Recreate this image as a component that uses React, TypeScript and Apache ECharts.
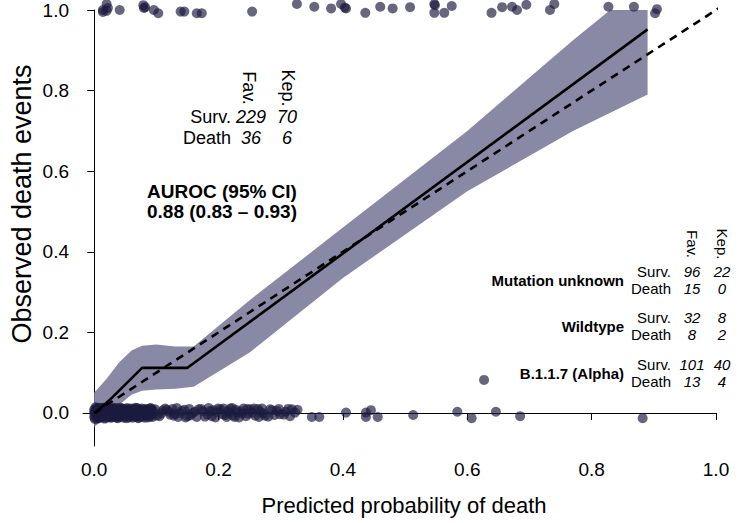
import React, { useEffect, useRef } from "react";
import * as echarts from "echarts";

// ---------- data ----------
const xTicks = [0, 0.2, 0.4, 0.6, 0.8, 1.0];
const yTicks = [0, 0.2, 0.4, 0.6, 0.8, 1.0];

// observed deaths (y jittered around 1)
const deathPts: [number, number][] = [
  [0.014, 1.0], [0.014, 0.995], [0.020, 1.015], [0.020, 0.998], [0.022, 1.005], [0.041, 1.0],
  [0.079, 1.012], [0.080, 1.005], [0.082, 1.007], [0.096, 1.0], [0.103, 0.992], [0.139, 0.996],
  [0.145, 0.996], [0.165, 0.992], [0.173, 0.992], [0.254, 0.996], [0.326, 1.015], [0.354, 1.008],
  [0.381, 1.004], [0.397, 1.015], [0.403, 1.006], [0.405, 1.004], [0.436, 0.993], [0.460, 1.008],
  [0.480, 1.004], [0.508, 1.007], [0.547, 1.015], [0.548, 1.012], [0.547, 0.993], [0.563, 0.993],
  [0.575, 1.010], [0.639, 0.993], [0.656, 1.007], [0.672, 1.008], [0.680, 1.0], [0.695, 1.013],
  [0.733, 1.0], [0.740, 1.015], [0.827, 1.008], [0.868, 1.008], [0.905, 1.002], [0.902, 0.992],
];

// observed survivors (y jittered around 0)
const survPts: [number, number][] = [
  [0.001, 0.004], [0.002, -0.008], [0.003, 0.010], [0.004, -0.002], [0.005, 0.012], [0.006, -0.012], [0.007, 0.003], [0.008, -0.006], [0.009, 0.008], [0.010, -0.010],
  [0.001, -0.015], [0.002, 0.014], [0.003, -0.004], [0.004, 0.007], [0.005, -0.009], [0.006, 0.001], [0.007, -0.013], [0.008, 0.011], [0.009, -0.001], [0.010, 0.006],
  [0.011, -0.007], [0.012, 0.009], [0.013, -0.011], [0.014, 0.002], [0.015, 0.013], [0.016, -0.005], [0.017, 0.005], [0.018, -0.012], [0.019, 0.010], [0.020, -0.003],
  [0.000, 0.000], [0.000, 0.008], [0.000, -0.010], [0.002, 0.002], [0.004, -0.014], [0.006, 0.011], [0.008, -0.003], [0.011, 0.004], [0.013, 0.012], [0.015, -0.008],
  [0.021, 0.007], [0.022, -0.010], [0.023, 0.012], [0.024, -0.001], [0.025, 0.005], [0.026, -0.012], [0.027, 0.009], [0.028, -0.006], [0.029, 0.002], [0.030, 0.011],
  [0.017, -0.014], [0.019, 0.004], [0.021, -0.004], [0.023, 0.001], [0.025, -0.009], [0.027, -0.002], [0.029, -0.011], [0.031, 0.006], [0.032, -0.008], [0.033, 0.010],
  [0.034, -0.003], [0.035, 0.008], [0.036, -0.012], [0.037, 0.003], [0.038, 0.012], [0.039, -0.006], [0.040, 0.005], [0.041, -0.010], [0.042, 0.009], [0.043, -0.001],
  [0.044, 0.011], [0.045, -0.007], [0.046, 0.004], [0.047, -0.012], [0.048, 0.007], [0.049, -0.004], [0.050, 0.010], [0.051, -0.009], [0.052, 0.001], [0.053, 0.012],
  [0.054, -0.005], [0.055, 0.006], [0.056, -0.011], [0.057, 0.009], [0.058, -0.002], [0.059, 0.011], [0.060, -0.008], [0.061, 0.003], [0.062, -0.012], [0.063, 0.008],
  [0.064, -0.003], [0.065, 0.010], [0.066, -0.009], [0.067, 0.004], [0.068, -0.006], [0.069, 0.012], [0.070, -0.011], [0.071, 0.002], [0.072, 0.009], [0.073, -0.004],
  [0.074, 0.006], [0.075, -0.010], [0.076, 0.011], [0.077, -0.002], [0.078, 0.004], [0.079, -0.008], [0.080, 0.009], [0.081, -0.012], [0.082, 0.001], [0.083, 0.010],
  [0.084, -0.006], [0.085, 0.005], [0.086, -0.011], [0.087, 0.008], [0.088, -0.003], [0.089, 0.011], [0.090, -0.009], [0.091, 0.003], [0.092, -0.005], [0.093, 0.009],
  [0.003, 0.006], [0.005, -0.004], [0.007, 0.013], [0.009, -0.011], [0.012, -0.002], [0.014, 0.009], [0.016, 0.003], [0.018, 0.006], [0.020, 0.012], [0.022, 0.003],
  [0.024, 0.010], [0.026, 0.004], [0.028, 0.011], [0.031, -0.002], [0.033, 0.003], [0.035, -0.009], [0.037, -0.006], [0.040, -0.002], [0.042, 0.000], [0.045, 0.002],
  [0.032, 0.013], [0.038, -0.013], [0.043, 0.013], [0.047, 0.010], [0.052, -0.013], [0.056, 0.002], [0.061, -0.004], [0.066, 0.013], [0.071, -0.013], [0.076, 0.001],
  [0.081, 0.005], [0.086, -0.001], [0.091, 0.012], [0.094, -0.010], [0.098, 0.009],
  [0.105, -0.008], [0.110, 0.006], [0.122, -0.004], [0.126, 0.010], [0.135, -0.010], [0.145, 0.008], [0.155, -0.006], [0.168, 0.009], [0.178, -0.009], [0.186, 0.004],
  [0.195, -0.011], [0.203, 0.009], [0.211, -0.005], [0.219, 0.011], [0.226, -0.010], [0.236, 0.004], [0.244, -0.008], [0.263, 0.010], [0.275, -0.007], [0.286, 0.007],
  [0.305, -0.004], [0.318, 0.009],
  [0.108, -0.001], [0.114, 0.011], [0.120, 0.003], [0.128, -0.007], [0.133, 0.012], [0.138, 0.000], [0.147, -0.011], [0.153, 0.010], [0.158, 0.000], [0.165, -0.010],
  [0.175, 0.004], [0.184, 0.012], [0.189, -0.008], [0.197, 0.002], [0.208, 0.011], [0.213, -0.010], [0.218, 0.000], [0.228, 0.008], [0.233, -0.011], [0.238, -0.002],
  [0.246, 0.010], [0.254, 0.001], [0.257, 0.011], [0.265, -0.010], [0.272, -0.001], [0.283, 0.009], [0.290, -0.005], [0.297, 0.010], [0.308, 0.003], [0.315, -0.008],
  [0.327, 0.008],
  [0.095, 0.004], [0.101, -0.006], [0.117, 0.008], [0.130, -0.002], [0.141, 0.005], [0.150, -0.008], [0.162, 0.003], [0.172, 0.010], [0.182, -0.004], [0.191, 0.007],
  [0.199, 0.011], [0.206, -0.003], [0.215, 0.004], [0.222, 0.012], [0.223, -0.006], [0.230, 0.002], [0.240, 0.011], [0.248, -0.002], [0.251, 0.009], [0.259, -0.007],
  [0.267, 0.003], [0.270, 0.011], [0.280, -0.009], [0.294, 0.005], [0.299, -0.003], [0.312, 0.010], [0.323, 0.001],
  [0.350, -0.010], [0.362, -0.010], [0.405, 0.001], [0.437, 0.001], [0.437, -0.010], [0.445, 0.007], [0.456, -0.010],
  [0.513, -0.005], [0.584, 0.003], [0.607, -0.013], [0.646, 0.003], [0.685, -0.008], [0.882, -0.013],
  [0.627, 0.082],
];

// calibration curve and its confidence band
const curveX = [0.002, 0.03, 0.077, 0.15, 0.89];
const curveY = [0.0, 0.04, 0.112, 0.112, 0.952];
const bandX = [0.0, 0.02, 0.04, 0.06, 0.077, 0.10, 0.13, 0.16, 0.25, 0.40, 0.60, 0.77, 0.83, 0.89];
const bandLow = [-0.035, -0.01, 0.02, 0.045, 0.055, 0.058, 0.06, 0.065, 0.15, 0.335, 0.55, 0.70, 0.745, 0.79];
const bandUp = [0.05, 0.085, 0.125, 0.155, 0.167, 0.17, 0.165, 0.165, 0.28, 0.46, 0.70, 0.925, 1.0, 1.0];
const idealX = [0, 1.03];
const idealY = [0, 1.03];

// annotation tables
const rowLabels = ["Surv.", "Death"];
const colLabels = ["Fav.", "Kep."];
const overallFav = [229, 36];
const overallKep = [70, 6];
const aurocLines = ["AUROC (95% CI)", "0.88 (0.83 \u2013 0.93)"];
const groupNames = ["Mutation unknown", "Wildtype", "B.1.1.7 (Alpha)"];
const groupFav = [[96, 15], [32, 8], [101, 13]];
const groupKep = [[22, 0], [8, 2], [40, 4]];

const xTitle = "Predicted probability of death";
const yTitle = "Observed death events";

const FONT = "'Liberation Sans', Arial, Helvetica, sans-serif";
const BAND = "rgb(137,137,166)";
const DOT = "rgba(28,27,62,0.84)";

function txt(text: string, x: number, y: number, o: any = {}) {
  return {
    type: "text",
    x,
    y,
    rotation: o.rotation || 0,
    silent: true,
    style: {
      text,
      fill: "#000",
      font: `${o.italic ? "italic " : ""}${o.bold ? "bold " : ""}${o.size || 18}px ${FONT}`,
      align: o.align || "center",
      verticalAlign: "middle",
    },
  };
}

export default function App() {
  const ref = useRef<HTMLDivElement>(null);
  useEffect(() => {
    if (!ref.current) return;
    const chart = echarts.init(ref.current, undefined, { renderer: "svg" });

    const graphics: any[] = [];
    // left table
    graphics.push(txt(colLabels[0], 249, 88, { rotation: -Math.PI / 2 }));
    graphics.push(txt(colLabels[1], 288, 88, { rotation: -Math.PI / 2 }));
    [117, 138].forEach((yy, i) => {
      graphics.push(txt(rowLabels[i], 231, yy, { align: "right" }));
      graphics.push(txt(String(overallFav[i]), 251, yy, { italic: true }));
      graphics.push(txt(String(overallKep[i]), 287, yy, { italic: true }));
    });
    graphics.push(txt(aurocLines[0], 222, 191, { bold: true, size: 19 }));
    graphics.push(txt(aurocLines[1], 222, 211, { bold: true, size: 19 }));
    // right table
    graphics.push(txt(colLabels[0], 692, 244, { rotation: -Math.PI / 2, size: 15 }));
    graphics.push(txt(colLabels[1], 722, 244, { rotation: -Math.PI / 2, size: 15 }));
    const gy = [280, 326, 373];
    groupNames.forEach((g, gi) => {
      const cy = gy[gi];
      graphics.push(txt(g, 624, cy, { bold: true, size: 15, align: "right" }));
      [cy - 8.5, cy + 8.5].forEach((yy, ri) => {
        graphics.push(txt(rowLabels[ri], 671, yy, { size: 15, align: "right" }));
        graphics.push(txt(String(groupFav[gi][ri]), 692, yy, { size: 15, italic: true }));
        graphics.push(txt(String(groupKep[gi][ri]), 722, yy, { size: 15, italic: true }));
      });
    });
    // axis titles
    graphics.push(txt(xTitle, 404, 505, { size: 22 }));
    graphics.push(txt(yTitle, 22, 204, { size: 27, rotation: Math.PI / 2 }));

    const axisCommon = {
      type: "value",
      axisLine: { show: true, lineStyle: { color: "#000", width: 1 } },
      axisTick: { show: true, customValues: xTicks, length: 7, lineStyle: { color: "#000" } },
      axisLabel: {
        customValues: xTicks,
        formatter: (v: number) => v.toFixed(1),
        fontSize: 19,
        color: "#000",
        fontFamily: FONT,
        margin: 14,
      },
      splitLine: { show: false },
    };

    chart.setOption({
      animation: false,
      textStyle: { fontFamily: FONT },
      grid: { left: 83, right: 23, top: 10, bottom: 77 },
      xAxis: { ...axisCommon, min: -0.018, max: 1.0 },
      yAxis: {
        ...axisCommon,
        min: -0.082,
        max: 1.0,
        axisTick: { ...axisCommon.axisTick, customValues: yTicks },
        axisLabel: { ...axisCommon.axisLabel, customValues: yTicks },
      },
      graphic: graphics,
      series: [
        {
          type: "custom",
          data: [[0, 0]],
          silent: true,
          renderItem: (_p: any, api: any) => {
            const pts: number[][] = [];
            bandX.forEach((x, i) => pts.push(api.coord([x, bandUp[i]])));
            for (let i = bandX.length - 1; i >= 0; i--) pts.push(api.coord([bandX[i], bandLow[i]]));
            return { type: "polygon", shape: { points: pts }, style: { fill: BAND } };
          },
        },
        {
          type: "line",
          data: idealX.map((x, i) => [x, idealY[i]]),
          showSymbol: false,
          clip: false,
          silent: true,
          lineStyle: { color: "#000", width: 2.6, type: [8, 6] },
        },
        {
          type: "line",
          data: curveX.map((x, i) => [x, curveY[i]]),
          showSymbol: false,
          clip: false,
          silent: true,
          lineStyle: { color: "#000", width: 2.6 },
        },
        {
          type: "scatter",
          data: survPts,
          symbolSize: 10,
          clip: false,
          silent: true,
          itemStyle: { color: DOT },
        },
        {
          type: "scatter",
          data: deathPts,
          symbolSize: 10,
          clip: false,
          silent: true,
          itemStyle: { color: DOT },
        },
      ],
    });
    return () => chart.dispose();
  }, []);
  return (
    <div
      ref={ref}
      style={{ position: "absolute", left: 0, top: 0, width: 739, height: 523, background: "#fff" }}
    />
  );
}
